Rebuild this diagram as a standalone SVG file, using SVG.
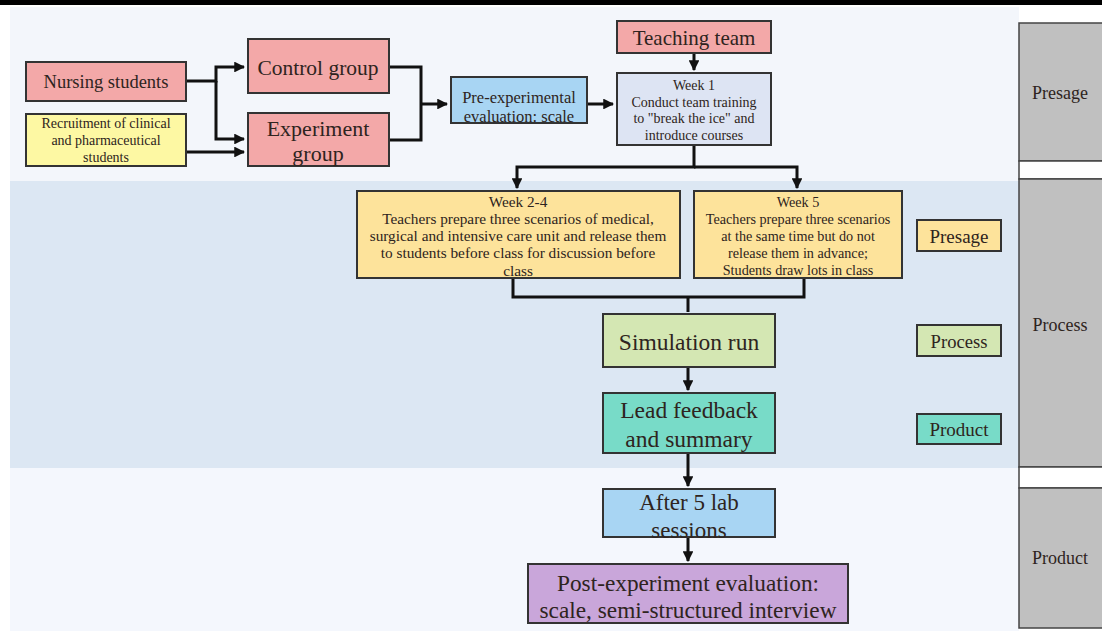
<svg xmlns="http://www.w3.org/2000/svg" width="1102" height="631" viewBox="0 0 1102 631">
<defs>
<style>
text{font-family:"Liberation Serif","Times New Roman",serif;text-anchor:middle;dominant-baseline:central;fill:#2e2420}
.box{stroke:#333;stroke-width:2}
.pink{fill:#f3a8a8}
.yel{fill:#fdf8a3}
.blue{fill:#a8d5f3}
.lav{fill:#dde4f3}
.org{fill:#fde39b}
.grn{fill:#d4e7b3}
.teal{fill:#78dbc8}
.pur{fill:#c9a6da}
.gray{fill:#c0c0c0;stroke:#444;stroke-width:1.5}
.conn path{fill:none;stroke:#111;stroke-width:3}
</style>
<marker id="ah" viewBox="0 0 10 10" refX="9" refY="5" markerWidth="3.6" markerHeight="3.6" orient="auto" markerUnits="strokeWidth">
<path d="M0,0 L10,5 L0,10 z" fill="#111"/>
</marker>
</defs>
<rect width="1102" height="631" fill="#ffffff"/>
<rect x="0" y="0" width="1102" height="5" fill="#000"/>
<rect x="10" y="7" width="1009" height="174" fill="#f3f6fb"/>
<rect x="10" y="181" width="1009" height="287" fill="#dce7f3"/>
<rect x="10" y="468" width="1009" height="163" fill="#f4f7fd"/>

<g id="stage-presage"><rect class="gray" x="1019" y="23" width="86" height="138"/><text x="1060" y="93" font-size="18">Presage</text></g>
<g id="stage-gap1"><rect x="1019" y="161" width="86" height="18" fill="#fff" stroke="#444" stroke-width="1.5"/></g>
<g id="stage-process"><rect class="gray" x="1019" y="179" width="86" height="288"/><text x="1060" y="325" font-size="18">Process</text></g>
<g id="stage-gap2"><rect x="1019" y="467" width="86" height="21" fill="#fff" stroke="#444" stroke-width="1.5"/></g>
<g id="stage-product"><rect class="gray" x="1019" y="488" width="86" height="140"/><text x="1060" y="558" font-size="18">Product</text></g>

<g class="conn" id="connectors">
<path d="M186,81 H216 V67 H244" marker-end="url(#ah)"/>
<path d="M216,81 V139 H244" marker-end="url(#ah)"/>
<path d="M186,152 H244" marker-end="url(#ah)"/>
<path d="M389,67 H421 V140 H389"/>
<path d="M421,104 H447" marker-end="url(#ah)"/>
<path d="M587,104 H613" marker-end="url(#ah)"/>
<path d="M694,53 V70" marker-end="url(#ah)"/>
<path d="M694,145 V167 H517 V188" marker-end="url(#ah)"/>
<path d="M694,167 H797 V188" marker-end="url(#ah)"/>
<path d="M513,278 V297 H804 V278"/>
<path d="M688,297 V312"/>
<path d="M688,367 V390" marker-end="url(#ah)"/>
<path d="M688,453 V486" marker-end="url(#ah)"/>
<path d="M688,537 V561" marker-end="url(#ah)"/>
</g>

<g id="nursing"><rect class="box pink" x="26" y="62" width="160" height="39"/><text x="106" y="82" font-size="18.5">Nursing students</text></g>
<g id="recruitment"><rect class="box yel" x="26" y="114" width="160" height="52"/>
<text x="106" y="123" font-size="14">Recruitment of clinical</text>
<text x="106" y="140" font-size="14">and pharmaceutical</text>
<text x="106" y="157" font-size="14">students</text></g>
<g id="control"><rect class="box pink" x="248" y="39" width="141" height="54"/><text x="318" y="68" font-size="21.5">Control group</text></g>
<g id="experiment"><rect class="box pink" x="248" y="113" width="141" height="53"/>
<text x="318" y="128" font-size="22">Experiment</text><text x="318" y="153" font-size="22">group</text></g>
<g id="pre"><rect class="box blue" x="451" y="77" width="136" height="46"/>
<text x="519" y="97" font-size="16.5">Pre-experimental</text><text x="519" y="116" font-size="16.5">evaluation: scale</text></g>
<g id="teaching"><rect class="box pink" x="617" y="21" width="154" height="32"/><text x="694" y="38" font-size="21">Teaching team</text></g>
<g id="week1"><rect class="box lav" x="617" y="73" width="154" height="72"/>
<text x="694" y="85" font-size="14">Week 1</text>
<text x="694" y="102" font-size="14">Conduct team training</text>
<text x="694" y="118" font-size="14">to "break the ice" and</text>
<text x="694" y="135" font-size="14">introduce courses</text></g>
<g id="week24"><rect class="box org" x="357" y="191" width="323" height="87"/>
<text x="518" y="201" font-size="15.3">Week 2-4</text>
<text x="518" y="218" font-size="15.3">Teachers prepare three scenarios of medical,</text>
<text x="518" y="235" font-size="15.3">surgical and intensive care unit and release them</text>
<text x="518" y="252" font-size="15.3">to students before class for discussion before</text>
<text x="518" y="270" font-size="15.3">class</text></g>
<g id="week5"><rect class="box org" x="694" y="191" width="208" height="87"/>
<text x="798" y="202" font-size="14.2">Week 5</text>
<text x="798" y="219" font-size="14.2">Teachers prepare three scenarios</text>
<text x="798" y="236" font-size="14.2">at the same time but do not</text>
<text x="798" y="253" font-size="14.2">release them in advance;</text>
<text x="798" y="270" font-size="14.2">Students draw lots in class</text></g>
<g id="simulation"><rect class="box grn" x="603" y="314" width="172" height="53"/><text x="689" y="342" font-size="23.5">Simulation run</text></g>
<g id="lead"><rect class="box teal" x="603" y="393" width="172" height="60"/>
<text x="689" y="410" font-size="23.5">Lead feedback</text><text x="689" y="439" font-size="23.5">and summary</text></g>
<g id="after"><rect class="box blue" x="603" y="489" width="172" height="48"/>
<text x="689" y="502" font-size="23">After 5 lab</text><text x="689" y="530" font-size="23">sessions</text></g>
<g id="post"><rect class="box pur" x="528" y="564" width="320" height="59"/>
<text x="688" y="583" font-size="23.3">Post-experiment evaluation:</text><text x="688" y="610" font-size="23.3">scale, semi-structured interview</text></g>

<g id="legend-presage"><rect class="box org" x="917" y="220" width="84" height="31"/><text x="959" y="236" font-size="19">Presage</text></g>
<g id="legend-process"><rect class="box grn" x="917" y="325" width="84" height="31"/><text x="959" y="341" font-size="18.6">Process</text></g>
<g id="legend-product"><rect class="box teal" x="917" y="414" width="84" height="30"/><text x="959" y="429" font-size="19">Product</text></g>
</svg>
